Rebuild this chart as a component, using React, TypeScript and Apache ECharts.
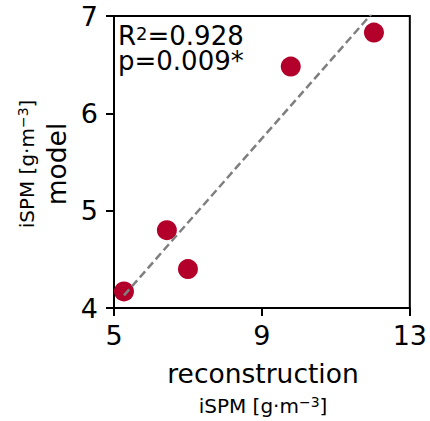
import React, { useEffect, useRef } from "react";
import * as echarts from "echarts";

const reconstruction = [5.27, 6.43, 7.0, 9.78, 12.03];
const model = [4.17, 4.8, 4.4, 6.48, 6.83];
const fitX = [5.27, 12.03];
const fitY = [4.13, 7.05];
const xTicks = [5, 9, 13];
const yTicks = [4, 5, 6, 7];

const FONT = "DejaVu Sans";

export default function App() {
  const ref = useRef<HTMLDivElement>(null);
  useEffect(() => {
    const chart = echarts.init(ref.current!, null, { renderer: "svg" });
    chart.setOption({
      animation: false,
      grid: {
        left: 114,
        right: 18,
        top: 16,
        bottom: 113,
        show: true,
        borderColor: "#000",
        borderWidth: 2,
        backgroundColor: "transparent",
      },
      xAxis: {
        type: "value",
        min: xTicks[0],
        max: xTicks[xTicks.length - 1],
        interval: 4,
        axisLine: { show: true, lineStyle: { color: "#000", width: 2 } },
        axisTick: { show: true, length: 8, lineStyle: { color: "#000", width: 2 } },
        axisLabel: { fontSize: 27, fontFamily: FONT, color: "#000", margin: 14 },
        splitLine: { show: false },
      },
      yAxis: {
        type: "value",
        min: yTicks[0],
        max: yTicks[yTicks.length - 1],
        interval: 1,
        axisLine: { show: true, lineStyle: { color: "#000", width: 2 } },
        axisTick: { show: true, length: 8, lineStyle: { color: "#000", width: 2 } },
        axisLabel: { fontSize: 27, fontFamily: FONT, color: "#000", margin: 16 },
        splitLine: { show: false },
      },
      series: [
        {
          type: "scatter",
          data: reconstruction.map((x, i) => [x, model[i]]),
          symbolSize: 20,
          itemStyle: { color: "#b3002b", opacity: 1 },
          z: 2,
        },
        {
          type: "line",
          data: fitX.map((x, i) => [x, fitY[i]]),
          showSymbol: false,
          symbol: "none",
          clip: true,
          lineStyle: { color: "#7f7f7f", width: 2.5, type: [8, 4] },
          z: 3,
        },
      ],
      graphic: [
        {
          type: "text",
          left: 118,
          top: 23,
          style: {
            text: "{a|R}{s|2}{a|=0.928}",
            rich: {
              a: { fontSize: 26, fontFamily: FONT, fill: "#000", lineHeight: 24 },
              s: { fontSize: 18, fontFamily: FONT, fill: "#000", lineHeight: 24, verticalAlign: "top" },
            },
          },
        },
        {
          type: "text",
          left: 118,
          top: 48,
          style: {
            text: "p=0.009*",
            fontSize: 26,
            fontFamily: FONT,
            fill: "#000",
          },
        },
        {
          type: "text",
          x: 263,
          y: 373,
          style: {
            text: "reconstruction",
            fontSize: 26.5,
            fontFamily: FONT,
            fill: "#000",
            align: "center",
            verticalAlign: "middle",
          },
        },
        {
          type: "text",
          x: 263,
          y: 406,
          style: {
            text: "{a|iSPM [g·m}{s|−3}{a|]}",
            align: "center",
            verticalAlign: "middle",
            rich: {
              a: { fontSize: 20, fontFamily: FONT, fill: "#000", lineHeight: 22 },
              s: { fontSize: 14, fontFamily: FONT, fill: "#000", lineHeight: 22, verticalAlign: "top" },
            },
          },
        },
        {
          type: "text",
          x: 56,
          y: 164,
          rotation: Math.PI / 2,
          style: {
            text: "model",
            fontSize: 26.5,
            fontFamily: FONT,
            fill: "#000",
            align: "center",
            verticalAlign: "middle",
          },
        },
        {
          type: "text",
          x: 27,
          y: 164,
          rotation: Math.PI / 2,
          style: {
            text: "{a|iSPM [g·m}{s|−3}{a|]}",
            align: "center",
            verticalAlign: "middle",
            rich: {
              a: { fontSize: 20, fontFamily: FONT, fill: "#000", lineHeight: 22 },
              s: { fontSize: 14, fontFamily: FONT, fill: "#000", lineHeight: 22, verticalAlign: "top" },
            },
          },
        },
      ],
    });
    return () => chart.dispose();
  }, []);
  return <div ref={ref} style={{ width: 430, height: 421, position: "absolute", left: 0, top: 0 }} />;
}
